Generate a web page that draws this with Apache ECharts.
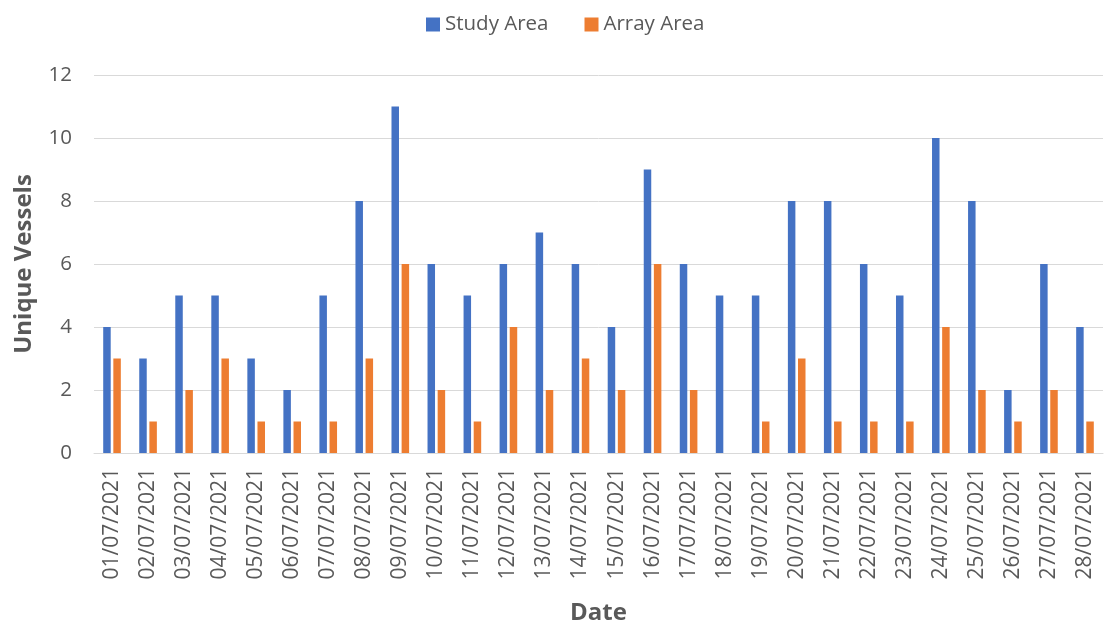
<!DOCTYPE html>
<html><head><meta charset="utf-8">
<script src="https://cdn.jsdelivr.net/npm/echarts@6/dist/echarts.min.js"></script>
<style>html,body{margin:0;padding:0;background:#fff}#c{width:1109px;height:624px}</style>
</head><body><div id="c"></div>
<script>
const categories = ["01/07/2021","02/07/2021","03/07/2021","04/07/2021","05/07/2021","06/07/2021","07/07/2021","08/07/2021","09/07/2021","10/07/2021","11/07/2021","12/07/2021","13/07/2021","14/07/2021","15/07/2021","16/07/2021","17/07/2021","18/07/2021","19/07/2021","20/07/2021","21/07/2021","22/07/2021","23/07/2021","24/07/2021","25/07/2021","26/07/2021","27/07/2021","28/07/2021"];
const studyArea = [4,3,5,5,3,2,5,8,11,6,5,6,7,6,4,9,6,5,5,8,8,6,5,10,8,2,6,4];
const arrayArea = [3,1,2,3,1,1,1,3,6,2,1,4,2,3,2,6,2,0,1,3,1,1,1,4,2,1,2,1];
const font = "'Open Sans', 'Noto Sans', sans-serif";
const chart = echarts.init(document.getElementById('c'));
chart.setOption({
  animation: false,
  textStyle: {fontFamily: font},
  legend: {
    top: 9, left: 421, itemWidth: 14, itemHeight: 14, itemGap: 36,
    icon: 'rect',
    textStyle: {fontSize: 20.5, color: '#595959', fontFamily: font}
  },
  grid: {left: 94, right: 6, top: 75, bottom: 171, containLabel: false, outerBoundsMode: 'none'},
  xAxis: {
    type: 'category', data: categories,
    name: 'Date', nameLocation: 'middle', nameGap: 148,
    nameTextStyle: {fontSize: 24, fontWeight: 'bold', color: '#595959', fontFamily: font},
    axisLine: {lineStyle: {color: '#d9d9d9', width: 1}},
    axisTick: {show: false},
    axisLabel: {rotate: 90, fontSize: 21, color: '#595959', margin: 15, fontFamily: font}
  },
  yAxis: {
    type: 'value', min: 0, max: 12, interval: 2,
    name: 'Unique Vessels', nameLocation: 'middle', nameGap: 58,
    nameTextStyle: {fontSize: 24, fontWeight: 'bold', color: '#595959', fontFamily: font},
    axisLine: {show: false}, axisTick: {show: false},
    axisLabel: {fontSize: 20.5, color: '#595959', margin: 22, fontFamily: font},
    splitLine: {lineStyle: {color: '#d9d9d9', width: 1}}
  },
  series: [
    {name: 'Study Area', type: 'bar', data: studyArea, barWidth: 7.5, barGap: '35%',
     itemStyle: {color: '#4472c4'}},
    {name: 'Array Area', type: 'bar', data: arrayArea, barWidth: 7.5,
     itemStyle: {color: '#ed7d31'}}
  ]
});
</script></body></html>
